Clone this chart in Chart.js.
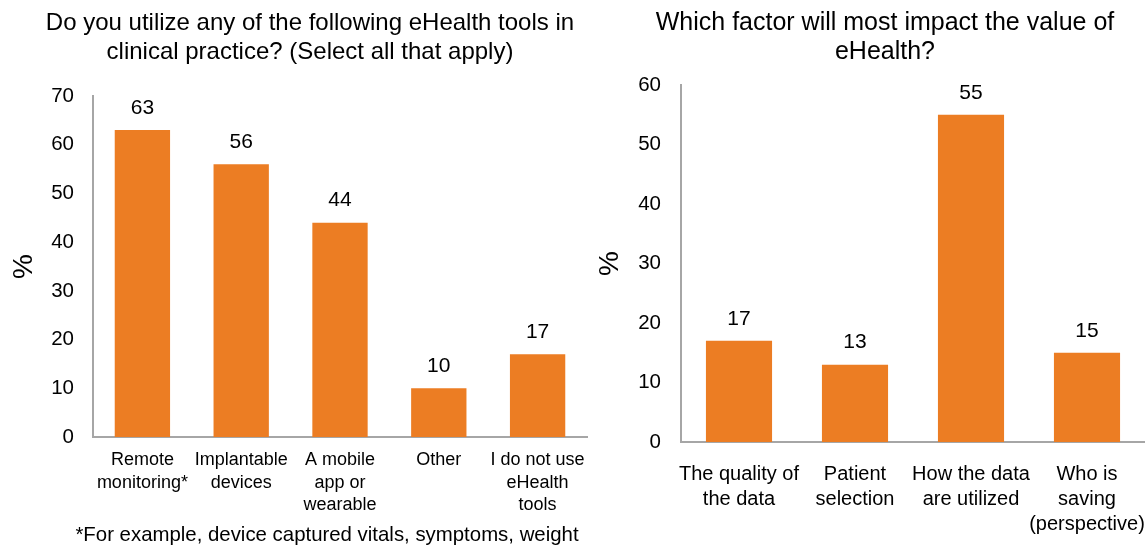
<!DOCTYPE html>
<html>
<head>
<meta charset="utf-8">
<script src="https://cdn.jsdelivr.net/npm/chart.js@4.4.1/dist/chart.umd.min.js"></script>
<style>
    body { margin: 0; width: 1145px; height: 546px; overflow: hidden; background: #fff; position: relative; font-family: "Liberation Sans", Arial, sans-serif; color: #000; }
    #leftBox { position: absolute; left: 0; top: 0; width: 600px; height: 546px; }
    #rightBox { position: absolute; left: 590px; top: 0; width: 585px; height: 546px; }
    .title { position: absolute; top: 7px; text-align: center; white-space: nowrap; line-height: 29px; }
    #leftTitle { left: 10px; width: 600px; font-size: 24px; }
    #rightTitle { left: 585px; width: 600px; font-size: 25px; }
    #note { position: absolute; left: 0; width: 654px; top: 523px; text-align: center; font-size: 20.4px; white-space: nowrap; }
</style>
</head>
<body>
<div id="leftBox"><canvas id="leftChart"></canvas></div>
<div id="rightBox"><canvas id="rightChart"></canvas></div>
<div class="title" id="leftTitle">Do you utilize any of the following eHealth tools in<br>clinical practice? (Select all that apply)</div>
<div class="title" id="rightTitle">Which factor will most impact the value of<br>eHealth?</div>
<div id="note">*For example, device captured vitals, symptoms, weight</div>

<script>
// データ
const toolLabels = [
    ['Remote', 'monitoring*'],
    ['Implantable', 'devices'],
    ['A mobile', 'app or', 'wearable'],
    'Other',
    ['I do not use', 'eHealth', 'tools']
];
const toolValues = [63, 56, 44, 10, 17];
const toolTicks = [0, 10, 20, 30, 40, 50, 60, 70];

const factorLabels = [
    ['The quality of', 'the data'],
    ['Patient', 'selection'],
    ['How the data', 'are utilized'],
    ['Who is', 'saving', '(perspective)']
];
const factorValues = [17, 13, 55, 15];
const factorTicks = [0, 10, 20, 30, 40, 50, 60];

const orange = '#ec7d23';
const axisGray = '#a6a6a6';
const fontName = '"Liberation Sans", Arial, sans-serif';

Chart.defaults.font.family = fontName;
Chart.defaults.color = '#000';

// 棒の上に数値を表示
const valueLabels = {
    id: 'valueLabels',
    afterDatasetsDraw(chart, args, opts) {
        const ctx = chart.ctx;
        const meta = chart.getDatasetMeta(0);
        ctx.save();
        ctx.font = opts.size + 'px ' + fontName;
        ctx.fillStyle = '#000';
        ctx.textAlign = 'center';
        ctx.textBaseline = 'middle';
        meta.data.forEach((bar, i) => {
            ctx.fillText(chart.data.datasets[0].data[i], bar.x, bar.y - opts.offset);
        });
        ctx.restore();
    }
};

function makeChart(id, cfg) {
    return new Chart(document.getElementById(id), {
        type: 'bar',
        data: {
            labels: cfg.labels,
            datasets: [{
                data: cfg.values,
                backgroundColor: orange,
                categoryPercentage: 1,
                barPercentage: cfg.barPct
            }]
        },
        options: {
            responsive: true,
            maintainAspectRatio: false,
            animation: false,
            layout: { padding: { left: 0, right: cfg.padRight, top: cfg.padTop, bottom: 0 } },
            plugins: {
                legend: { display: false },
                tooltip: { enabled: false },
                valueLabels: { size: 21, offset: 22 }
            },
            scales: {
                x: {
                    grid: { display: false, drawTicks: false },
                    border: { display: true, color: axisGray, width: 2 },
                    ticks: {
                        font: { size: cfg.xFont, lineHeight: cfg.xLine },
                        padding: cfg.xPad,
                        maxRotation: 0,
                        autoSkip: false
                    },
                    afterFit: s => { s.height = cfg.xHeight; }
                },
                y: {
                    min: 0,
                    max: cfg.ticks[cfg.ticks.length - 1],
                    afterBuildTicks: s => { s.ticks = cfg.ticks.map(v => ({ value: v })); },
                    grid: { display: false, drawTicks: false },
                    border: { display: true, color: axisGray, width: 2 },
                    ticks: { font: { size: 20.5 }, padding: cfg.yPad },
                    title: {
                        display: true,
                        text: '%',
                        font: { size: 28 },
                        padding: { top: cfg.pctPad, bottom: 0 }
                    },
                    afterFit: s => { s.width = cfg.yWidth; }
                }
            }
        },
        plugins: [valueLabels]
    });
}

makeChart('leftChart', {
    labels: toolLabels,
    values: toolValues,
    ticks: toolTicks,
    barPct: 0.56,
    padRight: 13,
    padTop: 96,
    xFont: 18,
    xLine: 1.25,
    xPad: 12,
    xHeight: 109,
    yPad: 19,
    yWidth: 93,
    pctPad: 7
});

makeChart('rightChart', {
    labels: factorLabels,
    values: factorValues,
    ticks: factorTicks,
    barPct: 0.57,
    padRight: 30,
    padTop: 85,
    xFont: 20,
    xLine: 1.25,
    xPad: 20,
    xHeight: 104,
    yPad: 20,
    yWidth: 91,
    pctPad: 3
});
</script>
</body>
</html>
